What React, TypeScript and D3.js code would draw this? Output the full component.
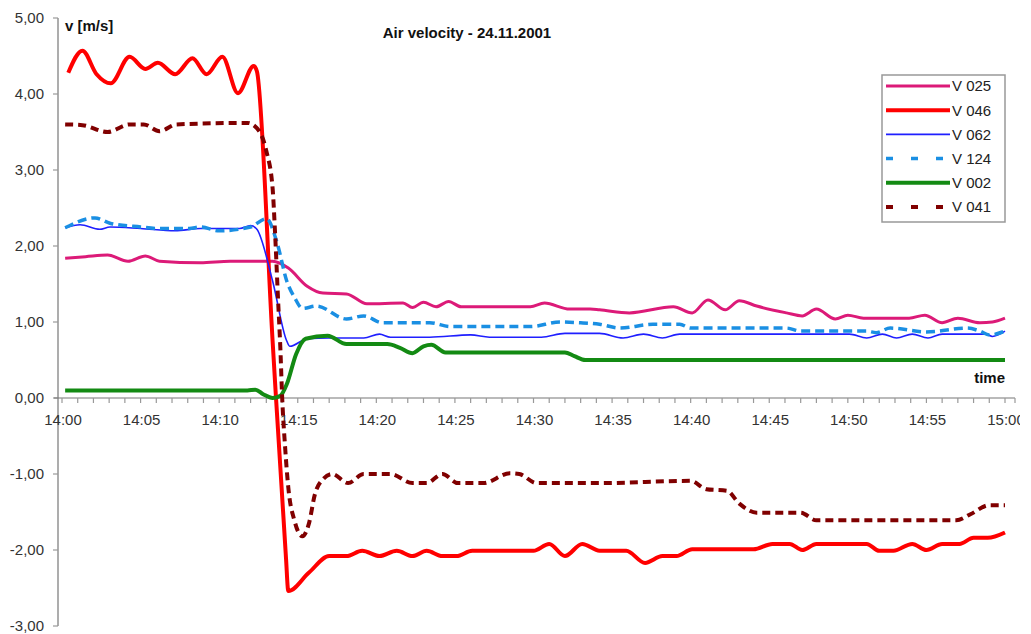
import React from "react";
import * as d3 from "d3";

// time in minutes after 14:00, velocity in m/s
const T025 = [0.2, 1.5, 2.9, 4.2, 5.3, 6.2, 8.8, 10.7, 12.0, 13.4, 14.4, 15.6, 16.6, 18.1, 19.4, 21.7, 22.3, 23.0, 23.8, 24.6, 25.4, 29.8, 30.7, 32.3, 33.6, 34.2, 36.1, 38.9, 40.1, 41.1, 42.2, 43.1, 44.2, 46.1, 47.1, 48.0, 49.2, 50.0, 51.0, 53.9, 54.9, 56.0, 57.0, 58.4, 59.2, 60.0];
const V025 = [1.84, 1.86, 1.88, 1.8, 1.87, 1.8, 1.78, 1.8, 1.8, 1.8, 1.71, 1.47, 1.38, 1.37, 1.24, 1.25, 1.19, 1.26, 1.2, 1.27, 1.2, 1.2, 1.25, 1.17, 1.17, 1.16, 1.12, 1.2, 1.12, 1.29, 1.16, 1.28, 1.21, 1.12, 1.08, 1.17, 1.04, 1.09, 1.05, 1.05, 1.09, 0.99, 1.05, 0.99, 1.0, 1.05];

const T046 = [0.4, 1.3, 2.2, 3.1, 4.3, 5.3, 6.1, 7.2, 8.3, 9.2, 10.2, 11.2, 12.2, 12.4, 13.4, 14.25, 14.4, 15.7, 17.0, 18.1, 19.1, 20.2, 21.3, 22.3, 23.2, 24.2, 25.1, 26.1, 30.0, 31.0, 32.0, 33.1, 34.2, 35.9, 37.1, 38.2, 39.1, 40.1, 44.0, 45.2, 46.3, 47.1, 48.0, 51.2, 52.0, 52.9, 54.1, 55.0, 56.0, 57.1, 58.0, 58.9, 60.0];
const V046 = [4.28, 4.57, 4.26, 4.14, 4.49, 4.33, 4.41, 4.26, 4.47, 4.26, 4.49, 4.01, 4.37, 4.3, 0.75, -2.1, -2.54, -2.3, -2.08, -2.08, -2.01, -2.08, -2.01, -2.08, -2.01, -2.08, -2.08, -2.01, -2.01, -1.92, -2.08, -1.92, -2.01, -2.01, -2.17, -2.08, -2.08, -1.99, -1.99, -1.92, -1.92, -2.0, -1.92, -1.92, -2.01, -2.01, -1.92, -2.0, -1.92, -1.92, -1.84, -1.84, -1.77];

const T062 = [0.2, 1.15, 2.4, 3.05, 5.0, 7.2, 8.8, 11.3, 12.0, 12.4, 13.4, 14.3, 14.5, 15.6, 17.0, 19.2, 20.2, 20.9, 23.4, 26.0, 27.2, 30.5, 32.0, 34.2, 35.7, 37.0, 38.2, 39.3, 50.1, 51.2, 52.2, 53.1, 54.1, 55.1, 56.0, 58.8, 59.2, 60.0];
const V062 = [2.24, 2.28, 2.22, 2.25, 2.23, 2.2, 2.23, 2.23, 2.27, 2.22, 1.54, 0.75, 0.68, 0.78, 0.79, 0.79, 0.84, 0.8, 0.8, 0.83, 0.8, 0.8, 0.85, 0.85, 0.79, 0.84, 0.79, 0.84, 0.84, 0.79, 0.84, 0.79, 0.84, 0.79, 0.84, 0.84, 0.81, 0.88];

const T124 = [0.2, 2.1, 3.05, 5.0, 6.2, 8.1, 8.8, 10.0, 12.0, 13.0, 13.7, 14.3, 14.8, 15.3, 16.2, 18.1, 19.2, 20.4, 23.4, 24.7, 29.8, 31.7, 33.0, 34.2, 35.5, 37.6, 39.3, 40.0, 46.1, 47.0, 51.2, 51.8, 52.7, 55.0, 57.6, 58.4, 59.0, 60.0];
const V124 = [2.24, 2.37, 2.3, 2.25, 2.23, 2.23, 2.25, 2.2, 2.25, 2.36, 2.03, 1.54, 1.32, 1.18, 1.21, 1.04, 1.08, 0.99, 0.99, 0.94, 0.94, 1.0, 0.99, 0.97, 0.92, 0.97, 0.97, 0.92, 0.92, 0.88, 0.88, 0.86, 0.92, 0.87, 0.92, 0.88, 0.83, 0.88];

const T002 = [0.2, 11.8, 12.3, 12.8, 13.4, 13.9, 14.3, 14.9, 15.5, 16.9, 18.1, 20.7, 21.5, 22.3, 23.0, 23.5, 24.4, 32.0, 32.6, 33.3, 60.0];
const V002 = [0.1, 0.1, 0.11, 0.05, 0.0, 0.03, 0.18, 0.58, 0.78, 0.82, 0.71, 0.71, 0.66, 0.59, 0.68, 0.7, 0.6, 0.6, 0.55, 0.5, 0.5];

const T041 = [0.2, 1.3, 2.9, 4.3, 5.2, 6.2, 7.3, 11.8, 12.4, 13.0, 13.4, 13.55, 13.75, 13.9, 14.0, 14.2, 14.4, 14.8, 15.3, 15.7, 16.1, 16.6, 17.2, 18.2, 19.2, 20.9, 22.3, 23.2, 24.2, 25.2, 26.8, 28.5, 29.1, 30.2, 34.2, 40.0, 41.0, 42.3, 43.1, 44.2, 47.0, 48.0, 56.9, 57.8, 59.0, 60.0];
const V041 = [3.6, 3.59, 3.5, 3.6, 3.6, 3.51, 3.6, 3.62, 3.55, 3.25, 2.76, 2.2, 1.28, 0.62, 0.05, -0.66, -1.18, -1.62, -1.82, -1.66, -1.26, -1.07, -1.0, -1.12, -1.0, -1.0, -1.12, -1.12, -1.0, -1.12, -1.12, -0.99, -1.0, -1.12, -1.12, -1.09, -1.2, -1.22, -1.39, -1.51, -1.51, -1.61, -1.61, -1.53, -1.41, -1.41];

const yTicks = [5, 4, 3, 2, 1, 0, -1, -2, -3];
const xTickMinutes = [0, 5, 10, 15, 20, 25, 30, 35, 40, 45, 50, 55, 60];
const xTickLabels = ["14:00", "14:05", "14:10", "14:15", "14:20", "14:25", "14:30", "14:35", "14:40", "14:45", "14:50", "14:55", "15:00"];

const series = [
  { name: "V 025", t: T025, v: V025, color: "#dc1a78", width: 3, dash: null },
  { name: "V 046", t: T046, v: V046, color: "#ff0000", width: 4, dash: null },
  { name: "V 062", t: T062, v: V062, color: "#1f1fff", width: 1.6, dash: null },
  { name: "V 124", t: T124, v: V124, color: "#1a8fe3", width: 3.5, dash: "9,5" },
  { name: "V 002", t: T002, v: V002, color: "#138a13", width: 4, dash: null },
  { name: "V 041", t: T041, v: V041, color: "#800000", width: 4, dash: "8,5" },
];

const FONT = "'Liberation Sans', Arial, sans-serif";

export default function App() {
  const x = d3.scaleLinear().domain([0, 60]).range([62, 1005]);
  const y = d3.scaleLinear().domain([-3, 5]).range([626, 18]);

  const line = d3
    .line<[number, number]>()
    .x((d) => x(d[0]))
    .y((d) => y(d[1]))
    .curve(d3.curveMonotoneX);

  const fmt = (v: number) => d3.format(".2f")(v).replace(".", ",").replace("−", "-");
  const minutes = d3.range(0, 61);

  return (
    <svg width={1031} height={634} style={{ position: "absolute", left: 0, top: 0, background: "#fff" }}>
      <defs>
        <clipPath id="edge">
          <rect x={0} y={0} width={1020} height={634} />
        </clipPath>
      </defs>

      {/* y axis */}
      <line x1={58} x2={58} y1={y(5)} y2={y(-3)} stroke="#999" strokeWidth={1.6} />
      {yTicks.map((t) => (
        <g key={t}>
          <line x1={53} x2={58} y1={y(t)} y2={y(t)} stroke="#999" strokeWidth={1.2} />
          <text x={44} y={y(t)} dy="0.35em" textAnchor="end" fontFamily={FONT} fontSize={15} fill="#333">
            {fmt(t)}
          </text>
        </g>
      ))}

      {/* x axis */}
      <line x1={54} x2={1015} y1={y(0)} y2={y(0)} stroke="#777" strokeWidth={1.2} />
      {minutes.map((m) => (
        <line key={m} x1={x(m)} x2={x(m)} y1={y(0)} y2={y(0) + 5} stroke="#999" strokeWidth={1.2} />
      ))}
      <line x1={1015} x2={1015} y1={y(0)} y2={y(0) + 5} stroke="#999" strokeWidth={1.2} />
      <g clipPath="url(#edge)">
        {xTickMinutes.map((m, i) => (
          <text key={m} x={x(m) + 1} y={425} textAnchor="middle" fontFamily={FONT} fontSize={15} fill="#333">
            {xTickLabels[i]}
          </text>
        ))}
      </g>

      {/* series */}
      {series.map((s) => (
        <path
          key={s.name}
          d={line(s.t.map((t, i) => [t, s.v[i]] as [number, number])) || ""}
          fill="none"
          stroke={s.color}
          strokeWidth={s.width}
          strokeDasharray={s.dash || undefined}
          strokeLinejoin="round"
        />
      ))}

      {/* titles */}
      <text x={467} y={38} textAnchor="middle" fontFamily={FONT} fontSize={15} fontWeight="bold" fill="#111">
        Air velocity - 24.11.2001
      </text>
      <text x={65} y={31} fontFamily={FONT} fontSize={15} fontWeight="bold" fill="#111">
        v [m/s]
      </text>
      <text x={1005} y={383} textAnchor="end" fontFamily={FONT} fontSize={15} fontWeight="bold" fill="#111">
        time
      </text>

      {/* legend */}
      <rect x={882} y={75} width={123} height={147} fill="#fff" stroke="#999" strokeWidth={1.5} />
      {series.map((s, i) => {
        const ly = 86 + i * 24.2;
        return (
          <g key={s.name}>
            <line
              x1={886}
              x2={s.dash ? 944 : 950}
              y1={ly}
              y2={ly}
              stroke={s.color}
              strokeWidth={s.width}
              strokeDasharray={s.dash ? "7,18" : undefined}
            />
            <text x={952} y={ly} dy="0.36em" fontFamily={FONT} fontSize={15} fill="#222">
              {s.name}
            </text>
          </g>
        );
      })}
    </svg>
  );
}
